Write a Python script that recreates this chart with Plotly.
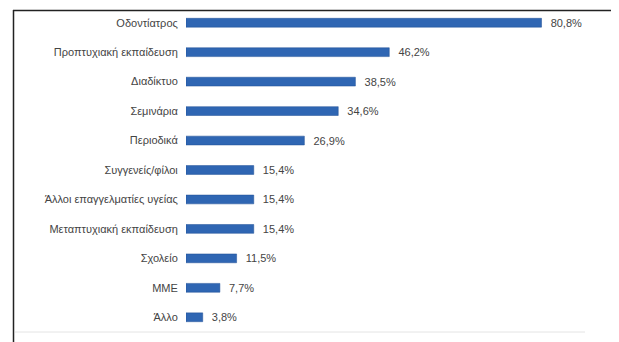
import plotly.graph_objects as go

categories = ["Οδοντίατρος", "Προπτυχιακή εκπαίδευση", "Διαδίκτυο", "Σεμινάρια", "Περιοδικά",
              "Συγγενείς/φίλοι", "Άλλοι επαγγελματίες υγείας", "Μεταπτυχιακή εκπαίδευση",
              "Σχολείο", "ΜΜΕ", "Άλλο"]
values = [80.8, 46.2, 38.5, 34.6, 26.9, 15.4, 15.4, 15.4, 11.5, 7.7, 3.8]
labels = ["  " + f"{v:.1f}".replace(".", ",") + "%" for v in values]

# the page body has an ~8px default margin; the figure is sized to fit the window
OFF = 8
W, H = 619 - OFF, 342 - OFF
L, R, B = 186 - OFF, 37, 10
MT = 0

fig = go.Figure(go.Bar(
    x=values, y=categories, orientation="h",
    marker=dict(color="#2f66b3", line=dict(color="#1f4f95", width=0.5)),
    text=labels, textposition="outside", cliponaxis=False, constraintext="none",
    textfont=dict(family="Liberation Sans, Arial, sans-serif", size=11, color="#444444"),
))

fig.update_layout(
    width=W, height=H,
    margin=dict(l=L, r=R, t=MT, b=B, autoexpand=False),
    paper_bgcolor="white", plot_bgcolor="white",
    bargap=0.7, showlegend=False,
    font=dict(family="Liberation Sans, Arial, sans-serif", size=11, color="#444444"),
    xaxis=dict(range=[0, 90], dtick=90, showgrid=True, gridcolor="#e4e4e4", gridwidth=1,
               showticklabels=False, zeroline=False, showline=False, fixedrange=True),
    yaxis=dict(categoryorder="array", categoryarray=categories[::-1], showgrid=False,
               ticks="outside", ticklen=5, tickcolor="rgba(0,0,0,0)", showline=False,
               fixedrange=True),
)

pw = W - L - R
ph = H - MT - B
def px_x(px):
    return (px - OFF - L) / pw
def py_y(py):
    return (H - B - (py - OFF)) / ph

fig.add_shape(type="line", xref="paper", yref="paper",
              x0=px_x(15), x1=px_x(585), y0=py_y(332), y1=py_y(332),
              line=dict(color="#e4e4e4", width=1))
fig.add_shape(type="line", xref="paper", yref="paper",
              x0=px_x(13.5), x1=px_x(13.5), y0=py_y(10), y1=py_y(342),
              line=dict(color="#222222", width=1.5))
fig.add_shape(type="line", xref="paper", yref="paper",
              x0=px_x(13), x1=px_x(619), y0=py_y(10.5), y1=py_y(10.5),
              line=dict(color="#222222", width=1.5))

fig.write_html("out.html")
